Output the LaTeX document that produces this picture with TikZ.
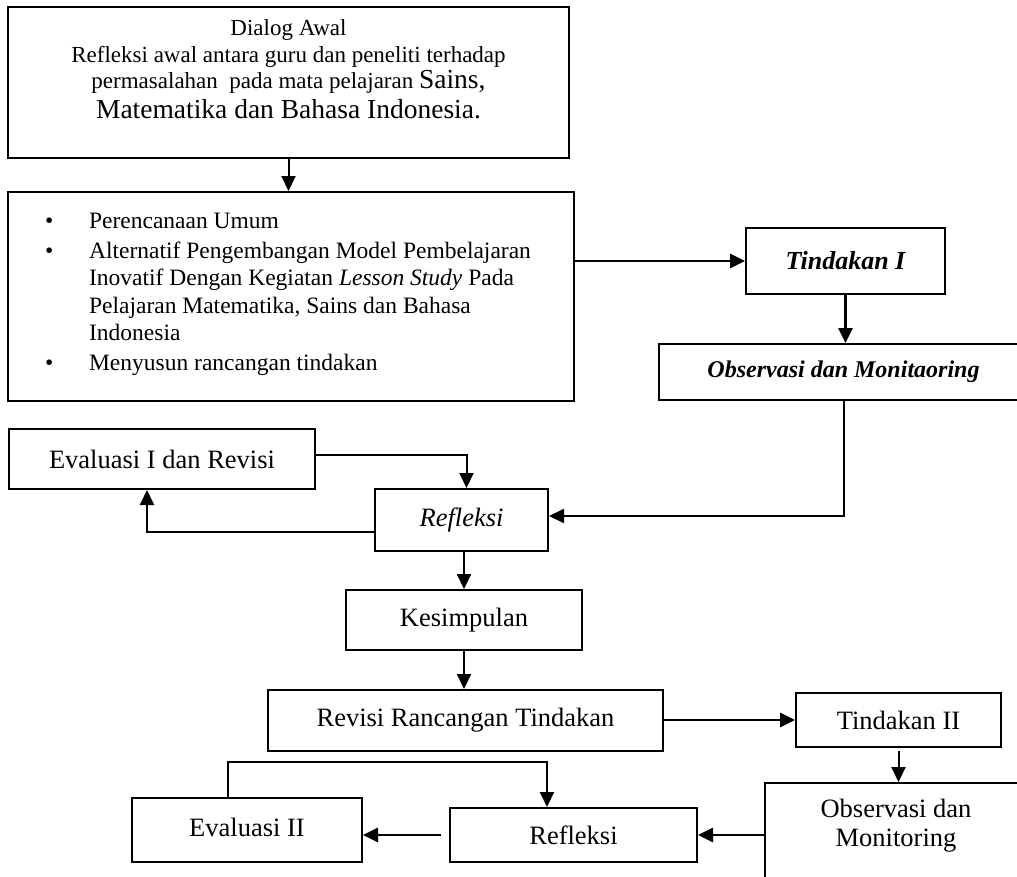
\documentclass[tikz,border=0pt]{standalone}
\usepackage{fontspec}
\setmainfont{Liberation Serif}
\usepackage{array}
\usetikzlibrary{arrows.meta}
\tikzset{
  box/.style={draw, line width=2pt, inner sep=0pt, font=\fontsize{26.5}{30}\selectfont},
  txt/.style={inner sep=0pt},
  conn/.style={line width=2pt, -{Triangle[length=15pt,width=14pt]}},
  heavy/.style={line width=2.8pt},
}
\begin{document}
\begin{tikzpicture}[x=1pt,y=-1pt]
\useasboundingbox (0,0) rectangle (1017,876);
\clip (0,0) rectangle (1017,876);
% boxes
\node[box, minimum width=561pt, minimum height=151pt] (dialog) at (288.5,82.5) {};
\node[txt, align=center, font=\fontsize{23}{26.5}\selectfont] (dialogtxt) at (288.5,69)
 {Dialog Awal\\
  Refleksi awal antara guru dan peneliti terhadap\\
  permasalahan\ \ pada mata pelajaran {\fontsize{27.5}{28}\selectfont Sains,}\\[3pt]
  {\fontsize{27.5}{28}\selectfont Matematika dan Bahasa Indonesia.}};
\node[box, minimum width=566pt, minimum height=209pt] (plan) at (291,296.5) {};
\node[txt, font=\fontsize{23.5}{27.5}\selectfont] (plantxt) at (288,294)
 {\begin{tabular}{@{}p{44pt}@{}l@{}}
  \textbullet & Perencanaan Umum\\[2pt]
  \textbullet & Alternatif Pengembangan Model Pembelajaran\\
   & Inovatif Dengan Kegiatan \textit{Lesson Study} Pada\\
   & Pelajaran Matematika, Sains dan Bahasa\\
   & Indonesia\\[2pt]
  \textbullet & Menyusun rancangan tindakan
 \end{tabular}};
\node[box, minimum width=199pt, minimum height=66pt, font=\fontsize{26}{30}\selectfont\bfseries\itshape] (tind1) at (845.5,261) {Tindakan I};
\node[box, minimum width=369pt, minimum height=56pt, font=\fontsize{24}{28}\selectfont\bfseries\itshape] (obs1) at (843.5,372) {Observasi dan Monitaoring};
\node[box, minimum width=306pt, minimum height=60pt] (eval1) at (162,459) {Evaluasi I dan Revisi};
\node[box, minimum width=173pt, minimum height=62pt] (ref1) at (461.5,520) {\itshape Refleksi};
\node[box, minimum width=236pt, minimum height=60pt] (kes) at (464,620) {Kesimpulan};
\node[box, minimum width=395pt, minimum height=61pt] (rev) at (465.5,720.5) {Revisi Rancangan Tindakan};
\node[box, minimum width=205pt, minimum height=54pt] (tind2) at (898.5,720) {Tindakan II};
\node[box, minimum width=263pt, minimum height=107pt] (obs2) at (896.5,836.5) {};
\node[txt, align=center, font=\fontsize{26.5}{29}\selectfont] (obs2txt) at (896,825.5) {Observasi dan\\Monitoring};
\node[box, minimum width=247pt, minimum height=54pt] (ref2) at (573.5,835) {Refleksi};
\node[box, minimum width=230pt, minimum height=64pt] (eval2) at (247,830) {\raisebox{6pt}{Evaluasi II}};
% connectors
\draw[conn] (dialog.south) -- (dialog.south |- plan.north);
\draw[conn, heavy] (tind1.west -| plan.east) -- (tind1.west);
\draw[conn, heavy] (tind1.south) -- (tind1.south |- obs1.north);
\draw[conn] (obs1.south) |- ([yshift=4pt]ref1.east);
\draw[conn] ([yshift=4pt]eval1.east) -| ([xshift=5pt]ref1.north);
\draw[conn] ([yshift=-12pt]ref1.west) -| ([xshift=-15pt]eval1.south);
\draw[conn] (kes.north |- ref1.south) -- (kes.north);
\draw[conn] (kes.south) -- (kes.south |- rev.north);
\draw[conn, heavy] (rev.east |- tind2.west) -- (tind2.west);
\draw[conn] ([yshift=-3pt]tind2.south) -- (tind2.south |- obs2.north);
\draw[conn, heavy] (obs2.west |- ref2.east) -- (ref2.east);
\draw[conn, heavy] ([xshift=-8pt]ref2.west) -- (eval2.east |- ref2.west);
\draw[conn] ([xshift=-19pt]eval2.north) -- ++(0,-35) -| ([xshift=-26.5pt]ref2.north);
\end{tikzpicture}
\end{document}
